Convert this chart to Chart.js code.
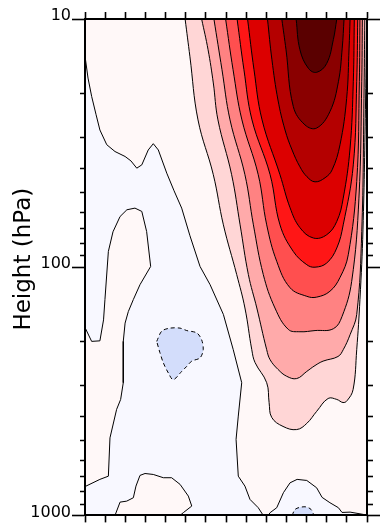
<!DOCTYPE html>
<html>
<head>
<meta charset="utf-8">
<script src="https://cdn.jsdelivr.net/npm/chart.js@4.4.1/dist/chart.umd.min.js"></script>
<style>
  html, body { margin: 0; padding: 0; background: #fff; }
</style>
</head>
<body>
<canvas id="chart" width="380" height="526"></canvas>
<script>
// contour outlines, as [x (tick units 0..14), pressure hPa]
// zero line; between it and the top/right edges the field is weakly positive
const zeroMain = [[0,14.1],[0.15,17.3],[0.33,20.5],[0.55,24.3],[0.74,28.0],[1.08,32.1],[1.49,34.2],[1.99,35.8],[2.28,37.3],[2.57,39.9],[2.82,38.7],[3.14,33.7],[3.39,31.8],[3.64,33.7],[4.06,41.8],[4.42,49.2],[4.80,57.8],[5.21,74.7],[5.71,99.3],[6.21,117.6],[6.87,155],[7.36,215],[7.78,292],[7.61,398],[7.50,494],[7.61,695],[7.94,762],[8.19,862],[8.60,931],[8.85,1000],[9.09,1000],[9.19,975],[9.52,931],[9.85,810],[10.18,739],[10.53,716],[11.01,723],[11.50,774],[11.77,846],[12.16,889],[12.58,931],[12.76,973],[13.16,970],[13.82,991],[14,1000],[14,10],[0,10]];
const zeroTongue = [[0,175],[0.33,199],[0.74,198],[0.92,163],[0.99,135],[1.16,86.4],[1.39,72.0],[1.74,62.5],[2.08,58.7],[2.48,57.8],[2.82,59.6],[3.06,71.8],[3.26,99.3],[2.73,117.6],[2.40,135],[2.15,151],[1.99,168],[1.90,199],[1.90,292],[1.77,341],[1.57,374],[1.24,487],[1.16,695],[0.74,716],[0.05,762],[0,764]];
const zeroFoot = [[1.49,1000],[1.74,884],[2.07,876],[2.40,849],[2.53,762],[2.73,690],[2.98,678],[3.39,684],[3.89,705],[4.30,705],[4.72,750],[5.13,836],[5.30,917],[4.88,975],[4.72,1000]];

// negative pockets (dashed)
const negBlob = [[3.56,199],[3.81,181],[4.22,176],[4.72,176],[5.05,180],[5.55,184],[5.79,196],[5.87,215],[5.71,232],[5.30,239],[5.05,251],[4.80,263],[4.38,284],[4.14,267],[3.89,243],[3.72,221],[3.56,199]];
const negFoot = [[10.28,1000],[10.43,946],[10.67,928],[10.97,924],[11.22,946],[11.37,1000]];

// positive levels, outer to inner
const lev1 = [[4.97,10],[5.21,14.2],[5.61,25.5],[6.37,42.4],[6.87,67.5],[7.53,107],[7.94,146],[8.28,215],[8.44,242],[9.02,292],[9.14,351],[9.27,403],[9.83,438],[10.51,451],[11.01,426],[11.50,381],[12.07,338],[12.50,341],[12.81,351],[13.01,345],[13.31,311],[13.49,215],[13.65,135],[13.80,70.7],[13.93,21.2],[13.98,10]];
const lev2 = [[5.79,10],[6.11,13.3],[6.37,18.1],[6.60,25.5],[7.28,42.4],[7.70,67.5],[8.11,107],[8.53,146],[9.02,215],[9.19,236],[9.58,258],[10.01,275],[10.51,281],[11.01,263],[11.42,249],[11.82,239],[12.56,229],[12.82,215],[13.16,187],[13.49,155],[13.74,71.8],[13.85,20.9],[13.89,10]];
const lev3 = [[6.40,10],[6.80,16.0],[7.20,25.5],[7.94,42.4],[8.36,67.5],[8.85,107],[9.43,146],[10.09,178],[10.67,182],[11.42,180],[12.33,177],[12.76,158],[13.24,114],[13.60,52.7],[13.74,17.9],[13.77,10]];
const lev4 = [[6.98,10],[7.35,16.0],[7.79,25.5],[8.60,42.4],[9.02,67.5],[9.52,94.8],[10.18,121],[11.01,131],[11.50,132],[12.16,125],[12.66,110],[13.07,89.1],[13.49,45.2],[13.62,17.9],[13.65,10]];
const lev5 = [[7.55,10],[7.89,16.0],[8.29,25.5],[9.19,42.4],[9.68,67.5],[10.34,86.4],[11.01,97.7],[11.42,100],[12.00,96.2],[12.50,83.7],[12.82,67.5],[13.32,38.7],[13.49,17.9],[13.54,10]];
const lev6 = [[8.07,10],[8.39,16.0],[8.79,25.5],[9.68,42.4],[10.18,57.6],[10.67,69.3],[11.34,76.3],[12.00,74.0],[12.50,65.4],[12.82,52.7],[13.16,33.1],[13.32,17.9],[13.37,10]];
const lev7 = [[9.06,10],[9.28,14.6],[9.58,21.2],[9.93,28.0],[10.28,33.7],[10.67,39.4],[11.02,43.2],[11.42,45.3],[11.92,43.6],[12.27,40.5],[12.66,32.1],[12.99,20.9],[13.11,13.1],[13.16,10]];
const lev8 = [[9.77,10],[9.98,13.3],[10.34,22.5],[10.92,26.7],[11.50,27.5],[12.16,23.6],[12.58,17.9],[12.77,13.1],[12.86,10]];
const lev9 = [[10.48,10],[10.67,13.3],[11.09,15.8],[11.50,16.4],[12.00,15.1],[12.33,12.1],[12.50,10]];

// axis ticks
const majorP = [10, 100, 1000];
const minorP = [20, 30, 40, 50, 60, 70, 80, 90, 200, 300, 400, 500, 600, 700, 800, 900];
const xRange = [0, 14];
const yTitle = 'Height (hPa)';

const posColor = '#fff8f8';
const negColor = '#f8f8ff';
const negFill = '#d3ddfb';
const levelColors = ['#ffd6d6', '#ffaaaa', '#ff8282', '#ff4f4f', '#ff1616', '#dc0000', '#b40000', '#8a0000', '#5a0000'];
const FONT = '"DejaVu Sans", Verdana, sans-serif';

function shape(points, color, order, extra) {
    return Object.assign({
        data: points.map(p => ({ x: p[0], y: p[1] })),
        fill: 'shape',
        backgroundColor: color,
        borderColor: '#000',
        borderWidth: 1,
        pointRadius: 0,
        pointHoverRadius: 0,
        tension: 0,
        order: order
    }, extra || {});
}

const datasets = [
    shape(zeroMain, posColor, 40),
    shape(zeroTongue, posColor, 39),
    shape(zeroFoot, posColor, 38),
    shape(negBlob, negFill, 2, { borderDash: [4, 3], tension: 0.3 }),
    shape(negFoot, negFill, 1, { borderDash: [4, 3], tension: 0.3 })
];
[lev1, lev2, lev3, lev4, lev5, lev6, lev7, lev8, lev9].forEach((lev, i) => {
    datasets.push(shape(lev, levelColors[i], 30 - i, { tension: 0.4 }));
});

const allP = majorP.concat(minorP).sort((a, b) => a - b);

function pAxis(position, width, withLabels) {
    return {
        type: 'logarithmic',
        position: position,
        min: 10,
        max: 1000,
        reverse: true,
        afterBuildTicks: s => { s.ticks = allP.map(v => ({ value: v, major: majorP.includes(v) })); },
        afterFit: s => { s.width = width; },
        grid: {
            drawOnChartArea: false,
            tickLength: 13,
            tickWidth: 1.6,
            tickColor: '#000',
            // minor ticks shorter than the decade ticks
            tickBorderDash: ctx => (ctx.tick && !majorP.includes(ctx.tick.value))
                ? (position === 'left' ? [0, 8, 5, 0] : [5, 30]) : []
        },
        border: { display: true, color: '#000', width: 2, z: 1 },
        ticks: {
            display: withLabels,
            autoSkip: false,
            padding: 1,
            labelOffset: -3,
            color: '#000',
            font: { family: FONT, size: 16 },
            callback: v => majorP.includes(v) ? String(v) : ''
        }
    };
}

function xAxis(position, height) {
    return {
        type: 'linear',
        position: position,
        min: xRange[0],
        max: xRange[1],
        afterFit: s => { s.height = height; },
        ticks: { display: false, stepSize: 1 },
        grid: { drawOnChartArea: false, tickLength: 7, tickWidth: 1.6, tickColor: '#000' },
        border: { display: true, color: '#000', width: 2, z: 1 }
    };
}

const background = {
    id: 'background',
    beforeDraw(chart) {
        const ctx = chart.ctx;
        ctx.save();
        ctx.fillStyle = '#fff';
        ctx.fillRect(0, 0, chart.width, chart.height);
        ctx.restore();
    },
    beforeDatasetsDraw(chart) {
        const a = chart.chartArea;
        const ctx = chart.ctx;
        ctx.save();
        ctx.fillStyle = negColor;
        ctx.fillRect(a.left, a.top, a.right - a.left, a.bottom - a.top);
        ctx.restore();
    }
};

// y title sits a little above the middle of the axis in the original
const sideTitle = {
    id: 'sideTitle',
    afterDraw(chart) {
        const ctx = chart.ctx;
        const a = chart.chartArea;
        ctx.save();
        ctx.translate(30, (a.top + a.bottom) / 2 - 8);
        ctx.rotate(-Math.PI / 2);
        ctx.font = '23px ' + FONT;
        ctx.fillStyle = '#000';
        ctx.textAlign = 'center';
        ctx.textBaseline = 'alphabetic';
        ctx.fillText(yTitle, 0, 0);
        ctx.restore();
    }
};

new Chart(document.getElementById('chart'), {
    type: 'line',
    data: { datasets: datasets },
    options: {
        responsive: false,
        animation: false,
        layout: { padding: 0 },
        plugins: { legend: { display: false }, tooltip: { enabled: false } },
        scales: {
            x: xAxis('bottom', 10),
            x2: xAxis('top', 19),
            y: pAxis('left', 85, true),
            y2: pAxis('right', 13, false)
        }
    },
    plugins: [background, sideTitle]
});
</script>
</body>
</html>
